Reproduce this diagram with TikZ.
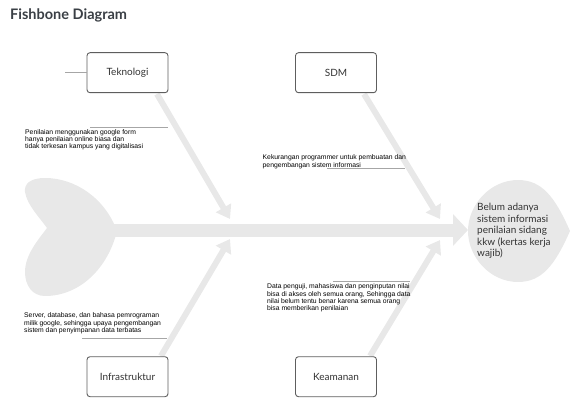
\documentclass[tikz,border=0pt]{standalone}
\usepackage{fontspec}
\setmainfont{Lato}
\newfontfamily\arialf{Liberation Sans}
\usetikzlibrary{arrows.meta,calc}
\definecolor{boneC}{HTML}{E8E8E8}
\definecolor{boxC}{HTML}{5E5E5E}
\definecolor{txtC}{HTML}{333333}
\definecolor{lineC}{HTML}{A6A6A6}
\definecolor{titleC}{HTML}{3A3F45}
\tikzset{
  catbox/.style={draw=boxC, line width=0.9pt, rounded corners=3pt, fill=white,
    minimum width=81pt, minimum height=40pt, inner sep=0pt, text=txtC, font=\fontsize{10}{12}\selectfont},
  bone/.style={draw=boneC, line width=6pt, -{Triangle[length=13pt,width=17pt]}},
  note/.style={anchor=north west, align=left, inner sep=0pt, text=black,
    font=\arialf\fontsize{6.8}{7.4}\selectfont},
  noteline/.style={draw=lineC, line width=0.8pt},
}
\begin{document}
\begin{tikzpicture}[x=1pt,y=-1pt]
\useasboundingbox (0,0) rectangle (570,398);
% title
\node[anchor=north west, inner sep=0pt, font=\bfseries\fontsize{14.5}{16}\selectfont, text=titleC] (title) at (10,9) {Fishbone Diagram};
% tail
\fill[boneC] (117,231) .. controls (105,198) and (75,178) .. (45,178)
  .. controls (30,178) and (24,184) .. (25,192)
  .. controls (27,205) and (40,218) .. (47,228)
  .. controls (38,240) and (25,255) .. (25,272)
  .. controls (25,285) and (32,296) .. (45,296)
  .. controls (80,296) and (108,268) .. (117,231) -- cycle;
% head
\fill[boneC] (570,231) .. controls (555,197) and (542,180) .. (518,180)
  .. controls (490,180) and (468,205) .. (468,231)
  .. controls (468,257) and (490,282) .. (518,282)
  .. controls (542,282) and (555,265) .. (570,231) -- cycle;
\node[anchor=north west, align=left, inner sep=0pt, text=txtC, font=\fontsize{10}{11.6}\selectfont] (head) at (477,203) {Belum adanya\\sistem informasi\\penilaian sidang\\kkw (kertas kerja\\wajib)};
% spine
\coordinate (tailpt) at (112,230);
\coordinate (headpt) at (468,230);
\draw[draw=boneC, line width=13pt, -{Triangle[length=15pt,width=31pt]}] (tailpt) -- (headpt);
% bone ends
\coordinate (tkS) at (157,94);
\coordinate (tkE) at (230,219);
\coordinate (sdS) at (364,94);
\coordinate (sdE) at (440,219);
\coordinate (inS) at (161,356);
\coordinate (inE) at (230,239);
\coordinate (keS) at (370,356);
\coordinate (keE) at (440,240);
\draw[bone] (tkS) -- (tkE);
\draw[bone] (sdS) -- (sdE);
\draw[bone] (inS) -- (inE);
\draw[bone] (keS) -- (keE);
% boxes
\node[catbox] (tek) at (127.5,72.7) {Teknologi};
\node[catbox] (sdm) at (336,72.7) {SDM};
\node[catbox] (inf) at (127.5,376.7) {Infrastruktur};
\node[catbox] (kea) at (336,376.7) {Keamanan};
% small line left of Teknologi
\coordinate (tkL) at (65,72.7);
\draw[noteline] (tkL) -- (tek.west);
% notes
\node[note] (n1) at (25,129) {Penilaian menggunakan google form\\hanya penilaian online biasa dan\\tidak terkesan kampus yang digitalisasi};
\draw[noteline] (90,127) -- (168,127);
\node[note] (n2) at (262.5,154.5) {Kekurangan programmer untuk pembuatan dan\\pengembangan sistem informasi};
\draw[noteline] (327,168) -- (405,168);
\node[note] (n3) at (24,312.5) {Server, database, dan bahasa pemrograman\\milik google, sehingga upaya pengembangan\\sistem dan penyimpanan data terbatas};
\draw[noteline] (82,338) -- (167,338);
\node[note] (n4) at (267,283.5) {Data penguji, mahasiswa dan penginputan nilai\\bisa di akses oleh semua orang, Sehingga data\\nilai belum tentu benar karena semua orang\\bisa memberikan penilaian};
\draw[noteline] (333,281) -- (410,281);
\end{tikzpicture}
\end{document}
